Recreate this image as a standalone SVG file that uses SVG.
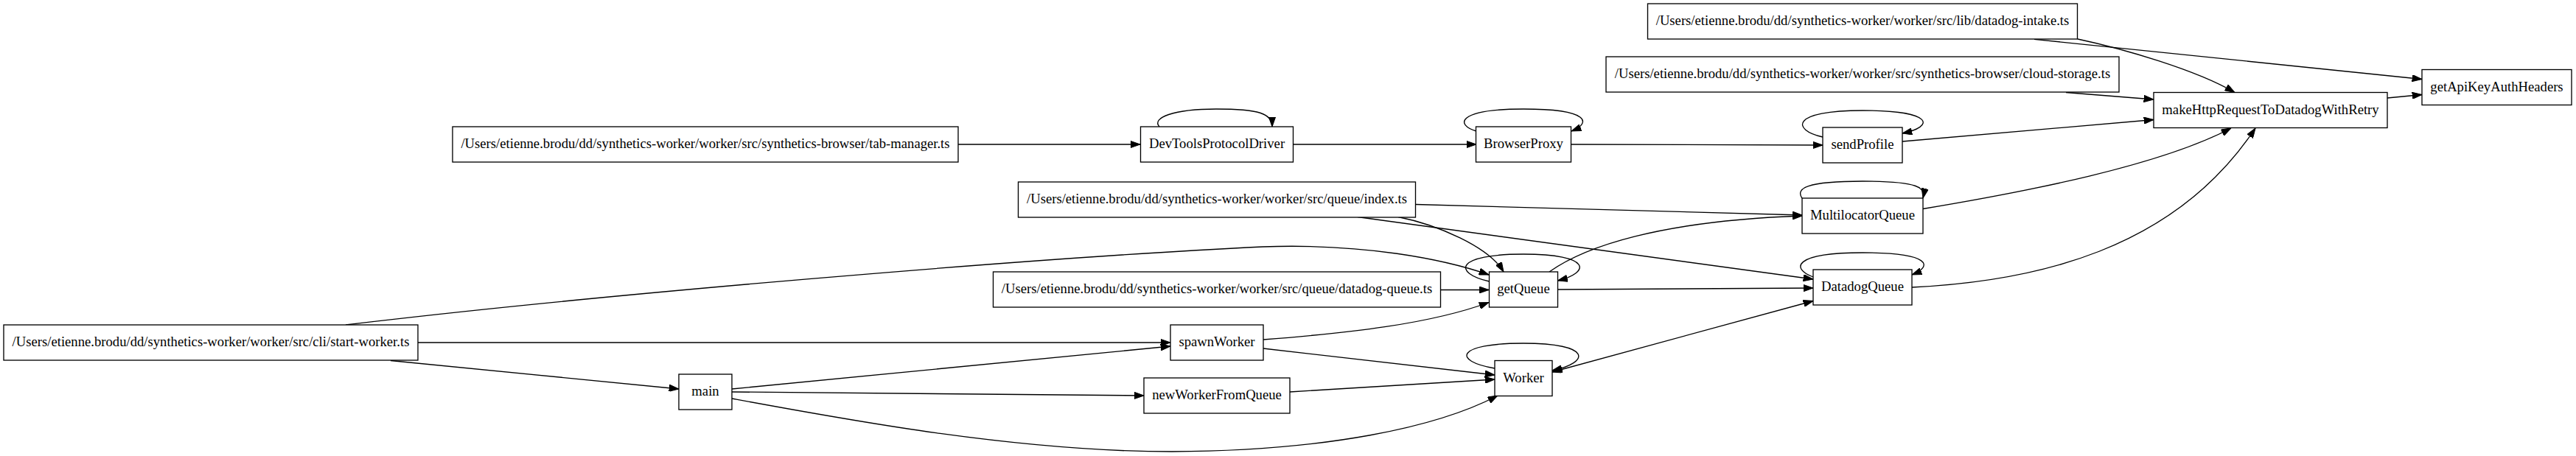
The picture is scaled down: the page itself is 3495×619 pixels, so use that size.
<svg xmlns="http://www.w3.org/2000/svg" width="3495" height="619" viewBox="0 0 3495 619">
<style>
.node rect{fill:#ffffff;stroke:#000000;stroke-width:1.33}
.node text{font-family:"Liberation Serif","Times New Roman",serif;font-size:18.67px;fill:#000000;text-anchor:middle}
#edges path{fill:none;stroke:#000000;stroke-width:1.33;marker-end:url(#ah)}
</style>
<defs>
<marker id="ah" viewBox="0 0 13.33 9.33" refX="13.33" refY="4.67" markerWidth="13.33" markerHeight="9.33" markerUnits="userSpaceOnUse" orient="auto-start-reverse">
<path d="M0,0 L13.33,4.67 L0,9.33 z" fill="#000000" stroke="#000000" stroke-width="1"/>
</marker>
</defs>
<rect width="3495" height="619" fill="#ffffff"/>
<g id="edges">
<path d="M469,441 C800,401 1400,350 1713,335 C1850,330 1960,352 2020,373"/>
<path d="M567,465 L1588,465"/>
<path d="M530,489.5 L921,528"/>
<path d="M1300,196 L1547,196"/>
<path d="M1754,196 L2003,196"/>
<path d="M2132,196 L2473,197"/>
<path d="M2581,192 L2922,162.5"/>
<path d="M1897,294.5 C1950,305 2020,335 2040,369"/>
<path d="M1921,277.5 L2445,292"/>
<path d="M1842,294.5 L2460,379"/>
<path d="M1955,393.5 L2020,393.5"/>
<path d="M2102,369 C2150,335 2250,300 2445,293"/>
<path d="M2113,393 L2460,391"/>
<path d="M1714,461 C1830,452 1940,440 2020,410.5"/>
<path d="M1714,473 L2028,509"/>
<path d="M993,528 L1588,470"/>
<path d="M993,532 L1552,537"/>
<path d="M993,541 C1150,570 1380,613 1590,613 C1800,612 1950,580 2032,537"/>
<path d="M1750,532 L2028,515"/>
<path d="M2106,505 L2460,408.5" marker-start="url(#ah)"/>
<path d="M2609,283.5 C2750,260 2930,225 3027,174"/>
<path d="M2594,390 C2760,382 2950,340 3060,174"/>
<path d="M2819,53 C2880,66 2980,95 3032,125.5"/>
<path d="M2760,53.3 L3286,107.5"/>
<path d="M2803,125.5 L2922,135"/>
<path d="M3239,133 L3286,128.5"/>
<path d="M1573,172 C1562,160 1592,148 1650,148 C1708,148 1726,154 1726,172"/>
<path d="M2003,178 C1975,170 1975,148 2067,148 C2160,148 2158,168 2132,178"/>
<path d="M2020.5,382 C1970,370 1975,345 2067,345 C2160,345 2158,370 2113.5,381"/>
<path d="M2028,500 C1970,490 1975,466 2067,466 C2160,466 2158,492 2106,503"/>
<path d="M2473,186 C2430,176 2430,150 2527,150 C2625,150 2625,172 2581,181"/>
<path d="M2445,269 C2436,256 2450,246 2527,246 C2605,246 2612,255 2609,269"/>
<path d="M2460,376 C2430,365 2432,343 2527,343 C2622,343 2622,362 2594,373"/>
</g>
<g id="n_start" class="node"><rect x="5" y="441" width="562" height="48"/><text x="286" y="470">/Users/etienne.brodu/dd/synthetics-worker/worker/src/cli/start-worker.ts</text></g>
<g id="n_tab" class="node"><rect x="614" y="172" width="686" height="48"/><text x="957" y="201">/Users/etienne.brodu/dd/synthetics-worker/worker/src/synthetics-browser/tab-manager.ts</text></g>
<g id="n_main" class="node"><rect x="921" y="508" width="72" height="48"/><text x="957" y="537">main</text></g>
<g id="n_index" class="node"><rect x="1381.5" y="247" width="539" height="48"/><text x="1651" y="276">/Users/etienne.brodu/dd/synthetics-worker/worker/src/queue/index.ts</text></g>
<g id="n_ddq" class="node"><rect x="1347.5" y="369" width="607" height="48"/><text x="1651" y="398">/Users/etienne.brodu/dd/synthetics-worker/worker/src/queue/datadog-queue.ts</text></g>
<g id="n_devtools" class="node"><rect x="1547.5" y="172" width="207" height="48"/><text x="1651" y="201">DevToolsProtocolDriver</text></g>
<g id="n_spawn" class="node"><rect x="1588" y="441" width="126" height="48"/><text x="1651" y="470">spawnWorker</text></g>
<g id="n_newwfq" class="node"><rect x="1552" y="513" width="198" height="48"/><text x="1651" y="542">newWorkerFromQueue</text></g>
<g id="n_bproxy" class="node"><rect x="2002.5" y="172" width="129" height="48"/><text x="2067" y="201">BrowserProxy</text></g>
<g id="n_getqueue" class="node"><rect x="2020.5" y="369" width="93" height="48"/><text x="2067" y="398">getQueue</text></g>
<g id="n_worker" class="node"><rect x="2028" y="489.5" width="78" height="48"/><text x="2067" y="518.5">Worker</text></g>
<g id="n_intake" class="node"><rect x="2235.5" y="5" width="583" height="48"/><text x="2527" y="34">/Users/etienne.brodu/dd/synthetics-worker/worker/src/lib/datadog-intake.ts</text></g>
<g id="n_cloud" class="node"><rect x="2179" y="77" width="696" height="48"/><text x="2527" y="106">/Users/etienne.brodu/dd/synthetics-worker/worker/src/synthetics-browser/cloud-storage.ts</text></g>
<g id="n_sendprofile" class="node"><rect x="2473" y="173" width="108" height="48"/><text x="2527" y="202">sendProfile</text></g>
<g id="n_multiloc" class="node"><rect x="2445" y="269" width="164" height="48"/><text x="2527" y="298">MultilocatorQueue</text></g>
<g id="n_ddqueue" class="node"><rect x="2460" y="366" width="134" height="48"/><text x="2527" y="395">DatadogQueue</text></g>
<g id="n_makehttp" class="node"><rect x="2922" y="125.5" width="317" height="48"/><text x="3080.5" y="154.5">makeHttpRequestToDatadogWithRetry</text></g>
<g id="n_apikey" class="node"><rect x="3286" y="94.5" width="203" height="48"/><text x="3387.5" y="123.5">getApiKeyAuthHeaders</text></g>
</svg>
